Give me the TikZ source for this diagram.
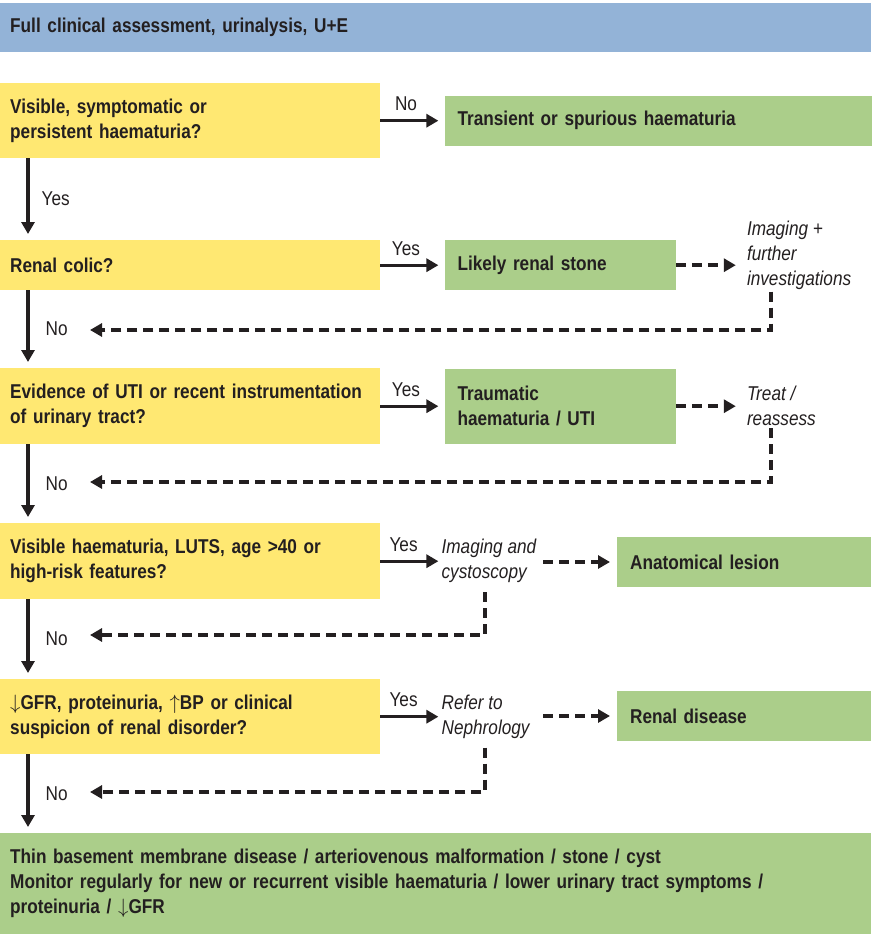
\documentclass[tikz,border=0pt]{standalone}
\usepackage{fontspec}
\setmainfont{Liberation Sans}[FakeStretch=0.86,WordSpace=0.7]
\newfontfamily\notefont{Liberation Sans}[FakeStretch=0.86]
\usetikzlibrary{arrows.meta,positioning}
\definecolor{hdrblue}{HTML}{93B3D7}
\definecolor{qyellow}{HTML}{FFE872}
\definecolor{outgreen}{HTML}{ABCE8A}
\definecolor{ink}{HTML}{231F20}

\begin{document}
\begin{tikzpicture}[x=1pt,y=-1pt,
  node distance=64pt,
  every node/.style={text=ink},
  qbox/.style={fill=qyellow,anchor=north west,minimum width=380pt,text width=360pt,inner xsep=10pt,inner ysep=0pt,align=left,font=\fontsize{20}{25}\selectfont\bfseries},
  obox/.style={fill=outgreen,minimum height=50pt,inner xsep=13pt,inner ysep=0pt,align=left,font=\fontsize{20}{25}\selectfont\bfseries},
  note/.style={inner xsep=3pt,inner ysep=2pt,align=left,font=\notefont\fontsize{20}{25}\selectfont\itshape},
  lbl/.style={inner sep=2pt,font=\fontsize{20}{25}\selectfont},
  arr/.style={-{Triangle[length=12pt,width=13pt]},line width=3.3pt,draw=ink},
  darr/.style={arr,line width=3.8pt,dash pattern=on 10pt off 6pt},
]
\useasboundingbox (0,0) rectangle (871,934);

\node[qbox,fill=hdrblue,minimum width=871pt,text width=851pt,minimum height=49pt] (start) at (0,3) {Full clinical assessment, urinalysis, U+E};

\node[qbox,minimum height=75pt] (q1) at (0,83) {Visible, symptomatic or\\persistent haematuria?};
\node[obox,right=of q1,text width=401pt] (spur) {Transient or spurious haematuria};

\node[qbox,minimum height=50pt] (q2) at (0,240) {Renal colic?};
\node[obox,right=of q2,text width=205pt] (stone) {Likely renal stone};
\node[note,right=68pt of stone,yshift=10pt] (invest) {Imaging +\\further\\investigations};

\node[qbox,minimum height=76pt] (q3) at (0,368) {Evidence of UTI or recent instrumentation\\of urinary tract?};
\node[obox,right=of q3,text width=205pt,minimum height=75pt] (uti) {Traumatic\\haematuria / UTI};
\node[note,right=68pt of uti] (treat) {Treat /\\reassess};

\node[qbox,minimum height=76pt] (q4) at (0,523) {Visible haematuria, LUTS, age >40 or\\high-risk features?};
\node[note,right=58pt of q4] (cysto) {Imaging and\\cystoscopy};
\node[obox,anchor=west,text width=228pt] (lesion) at (617,562) {Anatomical lesion};

\node[qbox,minimum height=75pt] (q5) at (0,679) {$\downarrow$GFR, proteinuria, $\uparrow$BP or clinical\\suspicion of renal disorder?};
\node[note,right=58pt of q5] (nephro) {Refer to\\Nephrology};
\node[obox,anchor=west,text width=228pt] (renal) at (617,716) {Renal disease};

\node[qbox,fill=outgreen,minimum width=871pt,text width=851pt,minimum height=101pt] (tbm) at (0,833) {Thin basement membrane disease / arteriovenous malformation / stone / cyst\\Monitor regularly for new or recurrent visible haematuria / lower urinary tract symptoms /\\proteinuria / $\downarrow$GFR};

% corners of the dashed way back
\coordinate (c2) at (771,330); \coordinate (b2) at (90,330);
\coordinate (c3) at (771,482); \coordinate (b3) at (90,482);
\coordinate (c4) at (485,635); \coordinate (b4) at (90,635);
\coordinate (c5) at (485,792); \coordinate (b5) at (90,792);

% main column
\draw[arr,shorten >=6pt] ([xshift=28pt]q1.south west) -- ([xshift=28pt]q2.north west) node[lbl,midway,right=10pt]{Yes};
\draw[arr,shorten >=6pt] ([xshift=28pt]q2.south west) -- ([xshift=28pt]q3.north west) node[lbl,midway,right=14pt]{No};
\draw[arr,shorten >=6pt] ([xshift=28pt]q3.south west) -- ([xshift=28pt]q4.north west) node[lbl,midway,right=14pt]{No};
\draw[arr,shorten >=6pt] ([xshift=28pt]q4.south west) -- ([xshift=28pt]q5.north west) node[lbl,midway,right=14pt]{No};
\draw[arr,shorten >=6pt] ([xshift=28pt]q5.south west) -- ([xshift=28pt]tbm.north west) node[lbl,midway,right=14pt]{No};

% answers
\draw[arr,shorten >=6pt] (q1.east) -- (spur.west) node[lbl,pos=0.4,above=6pt]{No};
\draw[arr,shorten >=6pt] (q2.east) -- (stone.west) node[lbl,pos=0.4,above=6pt]{Yes};
\draw[arr,shorten >=6pt] (q3.east) -- (uti.west) node[lbl,pos=0.4,above=6pt]{Yes};
\draw[arr] (q4.east) -- (cysto.west) node[lbl,pos=0.4,above=6pt]{Yes};
\draw[arr] (q5.east) -- (nephro.west) node[lbl,pos=0.4,above=6pt]{Yes};

\draw[darr,shorten >=8pt] (stone.east) -- (stone.east -| invest.west);
\draw[darr,shorten >=8pt] (uti.east) -- (uti.east -| treat.west);
\draw[darr,shorten <=4pt,shorten >=7pt] (cysto.east |- lesion.west) -- (lesion.west);
\draw[darr,shorten <=4pt,shorten >=7pt] (cysto.east |- renal.west) -- (renal.west);

\draw[darr] (invest.south -| c2) -- (c2) -- (b2);
\draw[darr] (treat.south -| c3) -- (c3) -- (b3);
\draw[darr,shorten <=7pt] (cysto.south -| c4) -- (c4) -- (b4);
\draw[darr,shorten <=7pt] (nephro.south -| c5) -- (c5) -- (b5);
\end{tikzpicture}
\end{document}
